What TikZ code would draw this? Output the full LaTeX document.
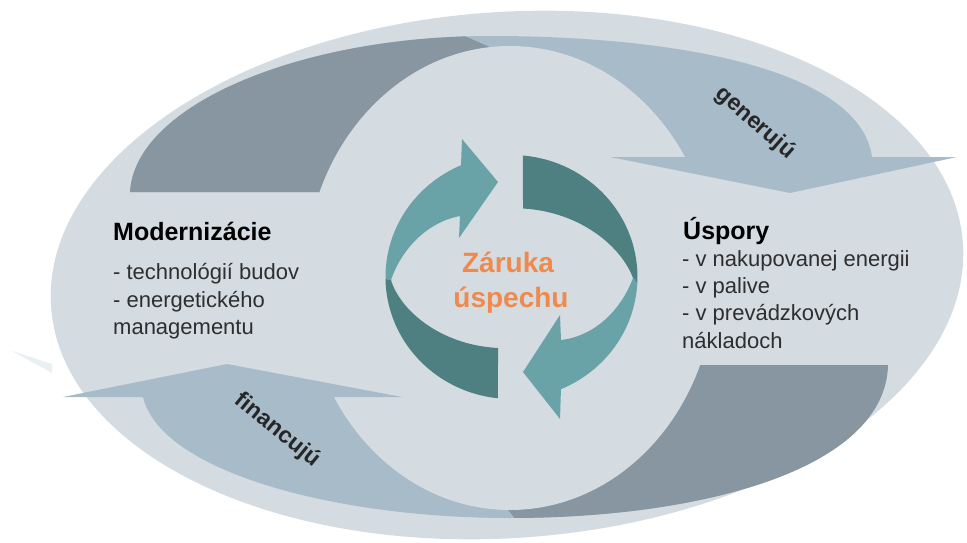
\documentclass[tikz,border=0pt]{standalone}
\usepackage{fontspec}
\setmainfont{Liberation Sans}
\definecolor{bgell}{HTML}{D4DCE2}
\definecolor{darkband}{HTML}{8796A0}
\definecolor{lightband}{HTML}{A8BBC8}
\definecolor{tealL}{HTML}{6AA3A7}
\definecolor{tealD}{HTML}{4F8081}
\definecolor{orangeT}{HTML}{EF8A4C}
\definecolor{txt}{HTML}{2E2E2E}
\definecolor{refl}{HTML}{E9F0F4}
\begin{document}
\begin{tikzpicture}[x=1pt,y=-1pt,
  head/.style={anchor=base west, inner sep=0pt, font=\bfseries\fontsize{25}{30}\selectfont, text=black},
  body/.style={anchor=base west, inner sep=0pt, font=\fontsize{22}{26}\selectfont, text=txt},
  ctr/.style={anchor=base, inner sep=0pt, font=\bfseries\fontsize{28}{32}\selectfont, text=orangeT},
  flow/.style={inner sep=0pt, font=\bfseries\fontsize{23}{27}\selectfont, text=black!85}]
\useasboundingbox (0,0) rectangle (967,543);
\fill[white] (0,0) rectangle (967,543);
% faint reflection at left
\fill[refl] (12,351) -- (52,364) -- (52,373) -- cycle;
% big ellipse
\fill[bgell, rotate around={4:(507,275)}] (507,275) ellipse [x radius=457, y radius=263];
% top band
\fill[lightband] (130,192) .. controls (135,105) and (300,36) .. (490,36) .. controls (680,36) and (860,70) .. (872,157) -- (690,157) -- (510,250) -- (325,192) -- cycle;
\begin{scope}
\clip (0,0) -- (383,0) -- (519,60) -- (519,300) -- (0,300) -- cycle;
\fill[darkband] (130,192) .. controls (135,105) and (300,36) .. (490,36) .. controls (680,36) and (860,70) .. (872,157) -- (690,157) -- (510,250) -- (325,192) -- cycle;
\end{scope}
% bottom band
\fill[lightband] (888,365) .. controls (885,470) and (700,518) .. (510,518) .. controls (330,518) and (160,470) .. (143,397) -- (330,397) -- (510,300) -- (700,365) -- cycle;
\begin{scope}
\clip (500,500) -- (535,543) -- (967,543) -- (967,250) -- (500,250) -- cycle;
\fill[darkband] (888,365) .. controls (885,470) and (700,518) .. (510,518) .. controls (330,518) and (160,470) .. (143,397) -- (330,397) -- (510,300) -- (700,365) -- cycle;
\end{scope}
% central region
\fill[bgell] (510,278) ellipse [x radius=205, y radius=232];
% arrow heads of the big arrows
\fill[lightband] (610,157) -- (957,157) -- (790,193) -- cycle;
\fill[lightband] (63,397) -- (227,364) -- (402,397) -- cycle;
% central cycle arrows
\fill[tealL] (385.5,279) arc[start angle=179.06, end angle=246.37, x radius=126, y radius=122]
  -- (462,139) -- (498,182) -- (459,238) -- (460,216)
  .. controls (428,222) and (402,248) .. (391,280) -- cycle;
\fill[tealD] (385.5,279) arc[start angle=179.06, end angle=96.15, x radius=126, y radius=122]
  -- (498,348) .. controls (440,345) and (400,310) .. (391,280) -- cycle;
\fill[tealD] (637.3,283) arc[start angle=2.82, end angle=-84.76, x radius=126, y radius=122]
  -- (523,208.5) .. controls (582,212) and (622,248) .. (633,278) -- cycle;
\fill[tealL] (637.3,283) arc[start angle=2.82, end angle=66.87, x radius=126, y radius=122]
  -- (560,419) -- (523,372) -- (560,315) -- (561,340)
  .. controls (595,336) and (621,310) .. (633,278) -- cycle;
% texts
\node[head] (mod) at (113,240) {Modernizácie};
\node[body] (m1) at (113,279) {- technológií budov};
\node[body] (m2) at (113,307) {- energetického};
\node[body] (m3) at (113,334) {managementu};
\node[head] (usp) at (683,239) {Úspory};
\node[body] (u1) at (682,266) {- v nakupovanej energii};
\node[body] (u2) at (682,293) {- v palive};
\node[body] (u3) at (682,320) {- v prevádzkových};
\node[body] (u4) at (682,348) {nákladoch};
\node[ctr] (z1) at (508,272) {Záruka};
\node[ctr] (z2) at (511,307) {úspechu};
\node[flow, rotate=-41] (gen) at (755,123) {generujú};
\node[flow, rotate=-39] (fin) at (277,430) {financujú};
\end{tikzpicture}
\end{document}
